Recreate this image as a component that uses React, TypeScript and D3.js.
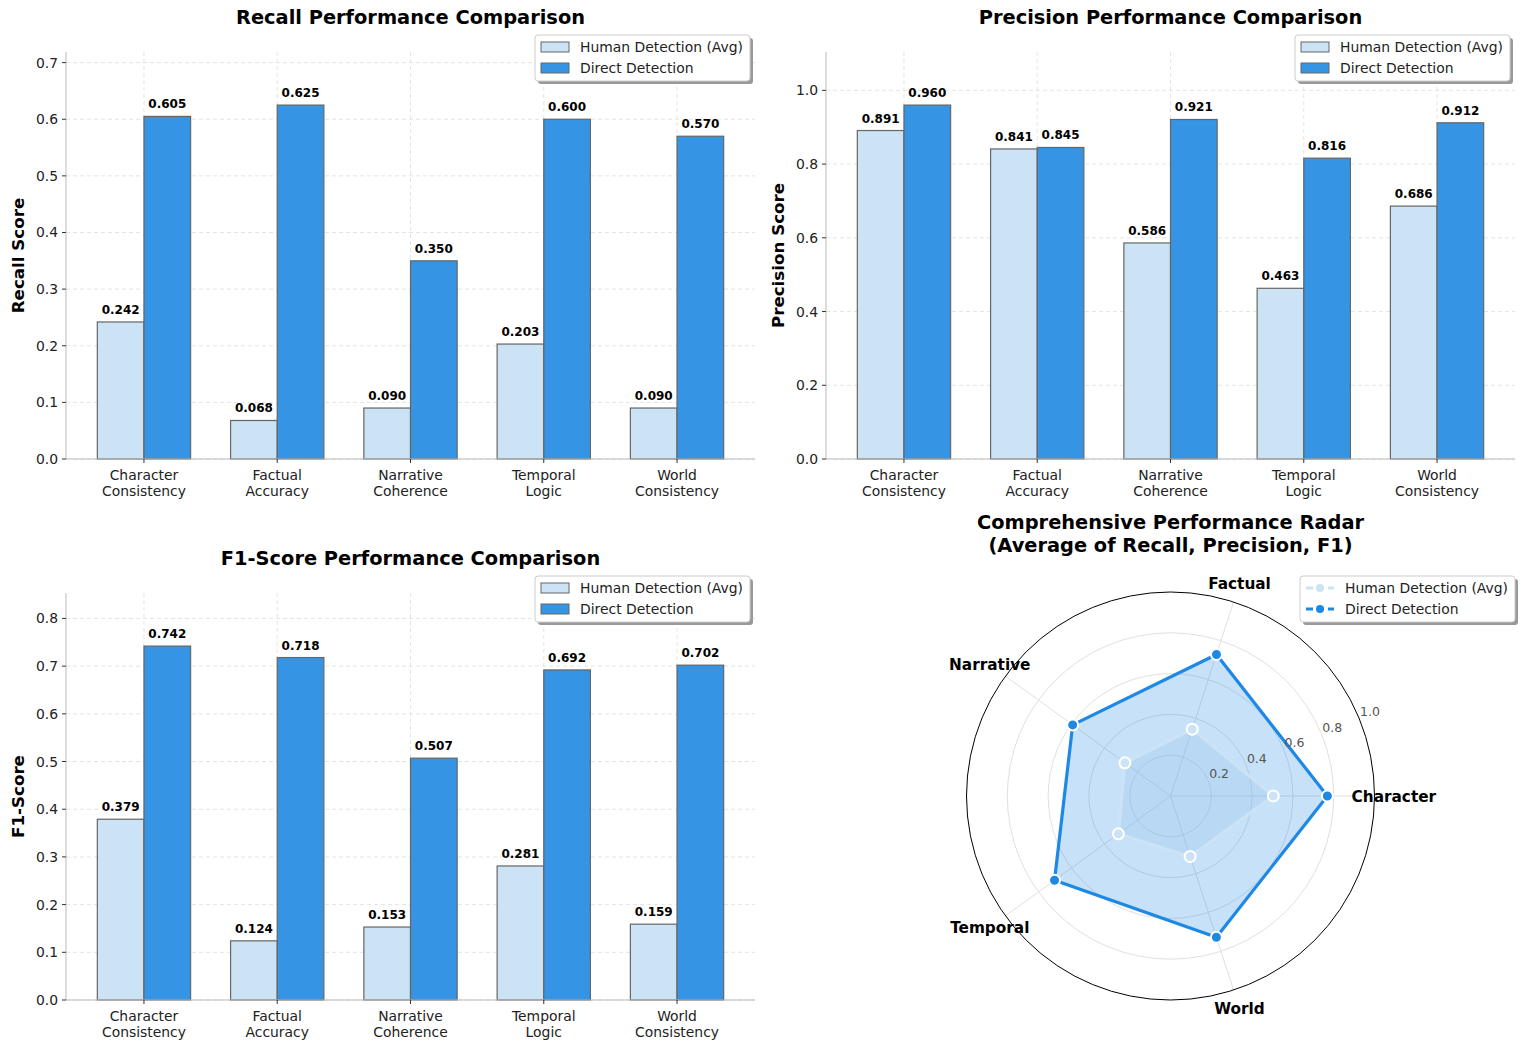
import React from 'react';
import * as d3 from 'd3';

// Categories and scores per metric
const categories = ['Character Consistency', 'Factual Accuracy', 'Narrative Coherence', 'Temporal Logic', 'World Consistency'];
const radarLabels = ['Character', 'Factual', 'Narrative', 'Temporal', 'World'];
const seriesNames = ['Human Detection (Avg)', 'Direct Detection'];

const recallHuman = [0.242, 0.068, 0.090, 0.203, 0.090];
const recallDirect = [0.605, 0.625, 0.350, 0.600, 0.570];
const precisionHuman = [0.891, 0.841, 0.586, 0.463, 0.686];
const precisionDirect = [0.960, 0.845, 0.921, 0.816, 0.912];
const f1Human = [0.379, 0.124, 0.153, 0.281, 0.159];
const f1Direct = [0.742, 0.718, 0.507, 0.692, 0.702];

const recallTicks = [0, 0.1, 0.2, 0.3, 0.4, 0.5, 0.6, 0.7];
const precisionTicks = [0, 0.2, 0.4, 0.6, 0.8, 1.0];
const f1Ticks = [0, 0.1, 0.2, 0.3, 0.4, 0.5, 0.6, 0.7, 0.8];
const radarTicks = [0.2, 0.4, 0.6, 0.8, 1.0];

const HUMAN = '#cce3f6';
const DIRECT = '#3594e3';
const DIRECT_LINE = '#1e88e5';
const FONT = 'DejaVu Sans, sans-serif';

const Legend: React.FC<{ x: number; y: number; kind: 'bar' | 'line' }> = ({ x, y, kind }) => {
  const w = 215;
  const h = 46;
  return (
    <g transform={`translate(${x},${y})`} fontFamily={FONT} fontSize={13.9}>
      <rect x={3} y={3} width={w} height={h} rx={3} fill="#999" />
      <rect x={0} y={0} width={w} height={h} rx={3} fill="#fff" stroke="#ccc" />
      {seriesNames.map((name, i) => {
        const cy = 12 + i * 21;
        const color = i === 0 ? HUMAN : DIRECT_LINE;
        return (
          <g key={name}>
            {kind === 'bar' ? (
              <rect x={6} y={cy - 5} width={28} height={10} fill={i === 0 ? HUMAN : DIRECT} stroke="#666" strokeWidth={1} />
            ) : (
              <g>
                <line x1={6} x2={34} y1={cy} y2={cy} stroke={color} strokeWidth={3} strokeDasharray="7,4" />
                <circle cx={20} cy={cy} r={4} fill={color} />
              </g>
            )}
            <text x={45} y={cy + 5} fill="#222">{name}</text>
          </g>
        );
      })}
    </g>
  );
};

interface BarPanelProps {
  left: number;
  right: number;
  top: number;
  bottom: number;
  title: string;
  titleY: number;
  yLabel: string;
  human: number[];
  direct: number[];
  ticks: number[];
}

const BarPanel: React.FC<BarPanelProps> = ({ left, right, top, bottom, title, titleY, yLabel, human, direct, ticks }) => {
  const bw = 0.35;
  const n = categories.length;
  const pad = 0.05 * (n - 1 + 2 * bw);
  const x = d3.scaleLinear().domain([-bw - pad, n - 1 + bw + pad]).range([left, right]);
  const yMax = d3.max([...human, ...direct])! * 1.15;
  const y = d3.scaleLinear().domain([0, yMax]).range([bottom, top]);
  const unit = x(1) - x(0);

  const bars = [
    { vals: human, off: -bw / 2, fill: HUMAN },
    { vals: direct, off: bw / 2, fill: DIRECT },
  ];

  return (
    <g fontFamily={FONT}>
      <text x={(left + right) / 2} y={titleY} textAnchor="middle" fontSize={19.4} fontWeight="bold">{title}</text>
      {/* grid */}
      {ticks.map(t => (
        <line key={'gy' + t} x1={left} x2={right} y1={y(t)} y2={y(t)} stroke="#ddd" strokeDasharray="4,3" strokeWidth={0.8} />
      ))}
      {categories.map((c, i) => (
        <line key={'gx' + c} x1={x(i)} x2={x(i)} y1={top} y2={bottom} stroke="#ddd" strokeDasharray="4,3" strokeWidth={0.8} />
      ))}
      {/* bars */}
      {bars.map((s, si) =>
        s.vals.map((v, i) => {
          const x0 = x(i + s.off - bw / 2);
          return (
            <g key={`b${si}-${i}`}>
              <rect x={x0} y={y(v)} width={unit * bw} height={bottom - y(v)} fill={s.fill} stroke="#666" strokeWidth={1.2} />
              <text x={x0 + (unit * bw) / 2} y={y(v) - 8} textAnchor="middle" fontSize={12} fontWeight="bold">{v.toFixed(3)}</text>
            </g>
          );
        })
      )}
      {/* axes */}
      <line x1={left} x2={left} y1={top} y2={bottom} stroke="#bbb" strokeWidth={1} />
      <line x1={left} x2={right} y1={bottom} y2={bottom} stroke="#bbb" strokeWidth={1} />
      {ticks.map(t => (
        <g key={'ty' + t}>
          <line x1={left - 4} x2={left} y1={y(t)} y2={y(t)} stroke="#333" />
          <text x={left - 8} y={y(t) + 5} textAnchor="end" fontSize={13.9} fill="#222">{t.toFixed(1)}</text>
        </g>
      ))}
      {categories.map((c, i) => {
        const parts = c.split(' ');
        return (
          <g key={'tx' + c}>
            <line x1={x(i)} x2={x(i)} y1={bottom} y2={bottom + 4} stroke="#333" />
            {parts.map((p, k) => (
              <text key={p} x={x(i)} y={bottom + 21 + k * 16} textAnchor="middle" fontSize={13.9} fill="#222">{p}</text>
            ))}
          </g>
        );
      })}
      <text transform={`translate(${left - 42},${(top + bottom) / 2}) rotate(-90)`} textAnchor="middle" fontSize={16.7} fontWeight="bold">{yLabel}</text>
      <Legend x={right - 220} y={top - 17} kind="bar" />
    </g>
  );
};

const Radar: React.FC = () => {
  const cx = 1170.5;
  const cy = 796;
  const R = 204;
  const r = d3.scaleLinear().domain([0, 1]).range([0, R]);
  const n = radarLabels.length;
  const angle = (i: number) => (i * 2 * Math.PI) / n;
  const pt = (i: number, v: number): [number, number] => [cx + r(v) * Math.cos(angle(i)), cy - r(v) * Math.sin(angle(i))];

  const avg = (a: number[], b: number[], c: number[]) => a.map((v, i) => (v + b[i] + c[i]) / 3);
  const humanAvg = avg(recallHuman, precisionHuman, f1Human);
  const directAvg = avg(recallDirect, precisionDirect, f1Direct);

  const line = d3.line<[number, number]>().curve(d3.curveLinearClosed);
  const humanPts = humanAvg.map((v, i) => pt(i, v));
  const directPts = directAvg.map((v, i) => pt(i, v));
  const lab = (22.5 * Math.PI) / 180;

  return (
    <g fontFamily={FONT}>
      <text x={cx} y={529} textAnchor="middle" fontSize={19.4} fontWeight="bold">Comprehensive Performance Radar</text>
      <text x={cx} y={552} textAnchor="middle" fontSize={19.4} fontWeight="bold">(Average of Recall, Precision, F1)</text>
      {radarTicks.slice(0, -1).map(t => (
        <circle key={t} cx={cx} cy={cy} r={r(t)} fill="none" stroke="#e0e0e0" strokeWidth={1} />
      ))}
      {radarLabels.map((l, i) => {
        const [x2, y2] = pt(i, 1);
        return <line key={'sp' + l} x1={cx} y1={cy} x2={x2} y2={y2} stroke="#e0e0e0" strokeWidth={1} />;
      })}
      <path d={line(directPts)!} fill={DIRECT_LINE} fillOpacity={0.25} stroke={DIRECT_LINE} strokeWidth={3.2} strokeLinejoin="round" />
      <path d={line(humanPts)!} fill="#8fc0e8" fillOpacity={0.25} stroke={HUMAN} strokeWidth={3} strokeLinejoin="round" />
      {humanPts.map((p, i) => (
        <circle key={'hp' + i} cx={p[0]} cy={p[1]} r={5.5} fill={HUMAN} stroke="#fff" strokeWidth={2} />
      ))}
      {directPts.map((p, i) => (
        <circle key={'dp' + i} cx={p[0]} cy={p[1]} r={5.5} fill={DIRECT_LINE} stroke="#fff" strokeWidth={2} />
      ))}
      <circle cx={cx} cy={cy} r={R} fill="none" stroke="#000" strokeWidth={1} />
      {radarTicks.map(t => (
        <text key={'rl' + t} x={cx + r(t) * Math.cos(lab) + 1} y={cy - r(t) * Math.sin(lab) - 2} fontSize={12.5} fill="#555">{t.toFixed(1)}</text>
      ))}
      {radarLabels.map((l, i) => {
        const [lx, ly] = pt(i, 1.095);
        return (
          <text key={'al' + l} x={lx} y={ly + 5.5} textAnchor="middle" fontSize={15.3} fontWeight="bold">{l}</text>
        );
      })}
      <Legend x={1300} y={576} kind="line" />
    </g>
  );
};

const App: React.FC = () => (
  <svg width={1525} height={1050} style={{ position: 'absolute', left: 0, top: 0, background: '#fff' }}>
    <BarPanel left={66} right={755} top={52} bottom={459} title="Recall Performance Comparison" titleY={24} yLabel="Recall Score" human={recallHuman} direct={recallDirect} ticks={recallTicks} />
    <BarPanel left={826} right={1515} top={52} bottom={459} title="Precision Performance Comparison" titleY={24} yLabel="Precision Score" human={precisionHuman} direct={precisionDirect} ticks={precisionTicks} />
    <BarPanel left={66} right={755} top={593} bottom={1000} title="F1-Score Performance Comparison" titleY={565} yLabel="F1-Score" human={f1Human} direct={f1Direct} ticks={f1Ticks} />
    <Radar />
  </svg>
);

export default App;
